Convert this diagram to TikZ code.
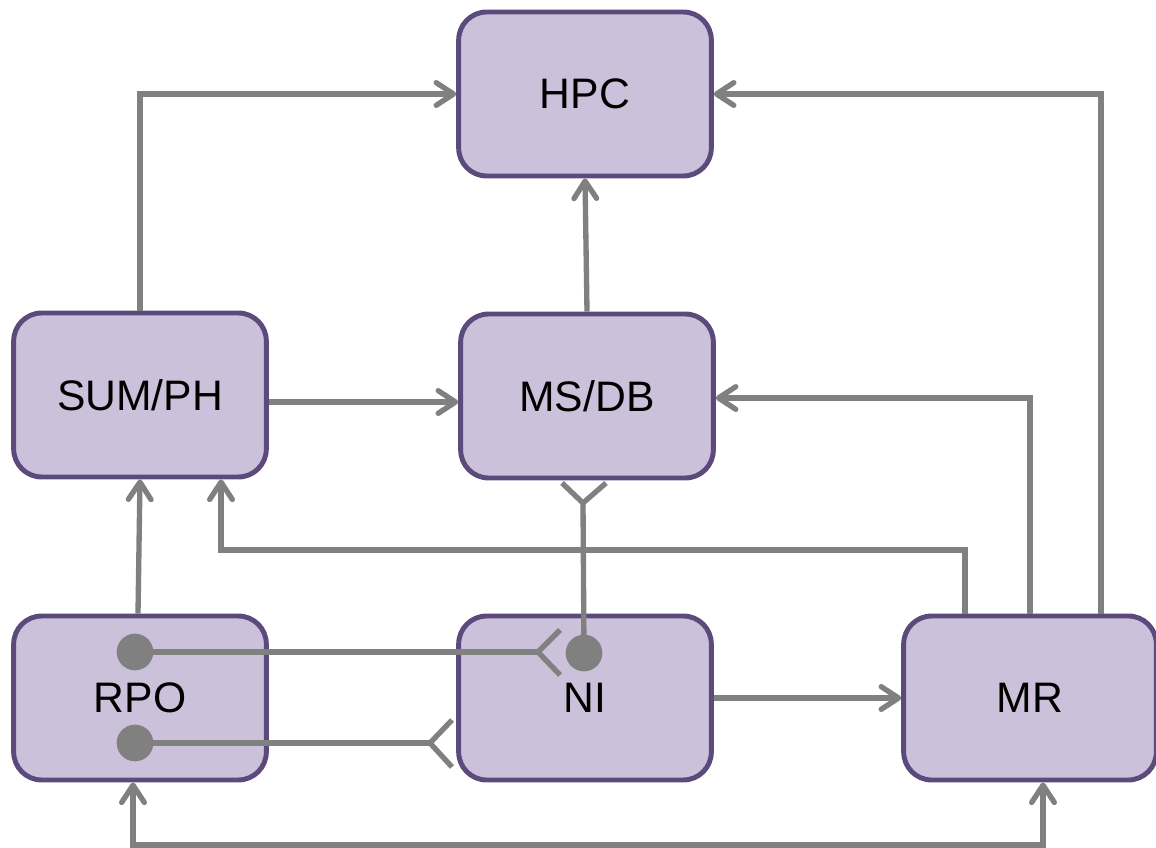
\documentclass[tikz,border=0pt]{standalone}
\usepackage{fontspec}
\setmainfont{Liberation Sans}
\usetikzlibrary{arrows.meta,calc}
\definecolor{boxfill}{HTML}{CBC1DA}
\definecolor{boxline}{HTML}{5C4A7C}
\definecolor{conn}{HTML}{808080}
\begin{document}
\begin{tikzpicture}[x=0.75pt,y=-0.75pt,
  blk/.style={draw=boxline,fill=boxfill,line width=3.7pt,rounded corners=21pt,
    minimum width=189.5pt,minimum height=123pt,inner sep=0pt,
    font=\fontsize{32}{36}\selectfont},
  wire/.style={draw=conn,line width=4pt},
  arr/.style={wire,-{Straight Barb[length=13pt,width=17pt,round]}},
  darr/.style={wire,{Straight Barb[length=13pt,width=17pt,round]}-{Straight Barb[length=13pt,width=17pt,round]}},
  dot/.style={circle,fill=conn,inner sep=0pt,minimum size=27.5pt},
  fork/.style={wire,line join=round}]
\useasboundingbox (0,0) rectangle (1156,848);
\node[blk] (hpc) at (585,94) {HPC};
\node[blk] (sum) at (140,395) {SUM/PH};
\node[blk] (msdb) at (587,396) {MS/DB};
\node[blk] (rpo) at (140,698) {RPO};
\node[blk] (ni) at (585,698) {NI};
\node[blk] (mr) at (1030,698) {MR};
% connectors
\draw[arr] (sum.north) |- (hpc.west);
\draw[arr] ($(mr.north)+(71,0)$) |- (hpc.east);
\draw[arr] (msdb.north) -- (hpc.south);
\draw[arr] ($(sum.east)+(0,7)$) -- ($(msdb.west)+(0,6)$);
\draw[arr] (mr.north) |- ($(msdb.east)+(0,2)$);
\coordinate (c1) at (221,550);
\draw[arr] ($(mr.north)+(-65,0)$) |- (c1) -- ($(sum.south)+(81,0)$);
\draw[arr] ($(rpo.north)+(-2,0)$) -- (sum.south);
\draw[arr] (ni.east) -- (mr.west);
\coordinate (c2) at (133,845);
\draw[darr] ($(rpo.south)+(-7,0)$) -- (c2) -| ($(mr.south)+(13,0)$);
% dots and forks
\coordinate (f1) at (538,652);
\coordinate (f2) at (430,743);
\coordinate (f3) at (583,503);
\draw[fork] (135,652) -- (f1);
\draw[fork] (f1) ++(22,-22) -- (f1) -- ++(22,23);
\draw[fork] (135,743) -- (f2);
\draw[fork] (f2) ++(22,-23) -- (f2) -- ++(22,24);
\draw[fork] (584,653) -- (f3);
\draw[fork] (f3) ++(-21,-20) -- (f3) -- ++(23,-20);
\node[dot] (d1) at (135,652) {};
\node[dot] (d2) at (135,743) {};
\node[dot] (d3) at (584,653) {};
\end{tikzpicture}
\end{document}
